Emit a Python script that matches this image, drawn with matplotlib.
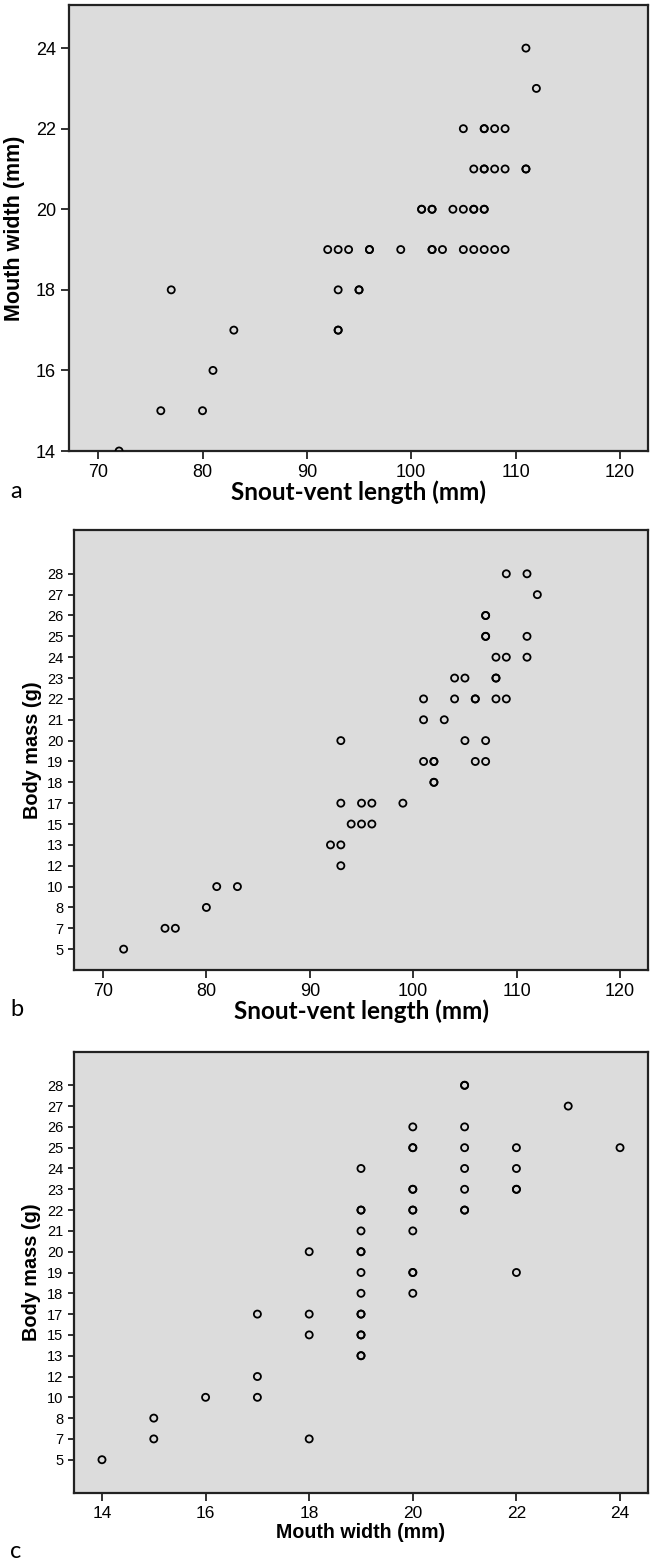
import matplotlib
matplotlib.use("Agg")
import matplotlib.pyplot as plt

# panel a: snout-vent length vs mouth width (repeated pairs = overlapping points)
svl_a = [72, 76, 80, 81, 83, 93, 93, 77, 93, 95, 95,
         92, 93, 94, 96, 96, 99, 102, 102, 103, 105, 106, 107, 108, 109,
         101, 101, 102, 102, 104, 105, 106, 106, 107, 107,
         106, 107, 107, 108, 109, 111, 111,
         105, 107, 107, 108, 109,
         112, 111]
mw_a = [14, 15, 15, 16, 17, 17, 17, 18, 18, 18, 18,
        19, 19, 19, 19, 19, 19, 19, 19, 19, 19, 19, 19, 19, 19,
        20, 20, 20, 20, 20, 20, 20, 20, 20, 20,
        21, 21, 21, 21, 21, 21, 21,
        22, 22, 22, 22, 22,
        23, 24]

# body mass categories shown on the y axis (ordinal axis)
mass_cats = [5, 7, 8, 10, 12, 13, 15, 17, 18, 19, 20, 21, 22, 23, 24, 25, 26, 27, 28]

# panel b: snout-vent length vs body mass
svl_b = [109, 111, 112, 107, 107, 107, 107, 111, 108, 109, 111,
         104, 105, 108, 108, 101, 104, 106, 106, 108, 109,
         101, 103, 93, 105, 107, 101, 102, 102, 106, 107,
         102, 102, 93, 95, 96, 99, 94, 95, 96, 92, 93, 93,
         81, 83, 80, 76, 77, 72]
bm_b = [28, 28, 27, 26, 26, 25, 25, 25, 24, 24, 24,
        23, 23, 23, 23, 22, 22, 22, 22, 22, 22,
        21, 21, 20, 20, 20, 19, 19, 19, 19, 19,
        18, 18, 17, 17, 17, 17, 15, 15, 15, 13, 13, 12,
        10, 10, 8, 7, 7, 5]

# panel c: mouth width vs body mass
mw_c = [21, 21, 23, 20, 21, 20, 20, 21, 22, 24, 19, 21, 22,
        20, 20, 21, 22, 22, 19, 19, 20, 20, 21, 21, 19, 20,
        18, 19, 19, 19, 20, 20, 22, 19, 20,
        17, 18, 19, 19, 18, 19, 19, 19, 19, 17, 16, 17, 15, 15, 18, 14]
bm_c = [28, 28, 27, 26, 26, 25, 25, 25, 25, 25, 24, 24, 24,
        23, 23, 23, 23, 23, 22, 22, 22, 22, 22, 22, 21, 21,
        20, 20, 20, 19, 19, 19, 19, 18, 18,
        17, 17, 17, 17, 15, 15, 15, 13, 13, 12, 10, 10, 8, 7, 7, 5]

bg = "#dcdcdc"
tick_font = ["Liberation Sans Narrow", "Liberation Sans", "DejaVu Sans"]


def style(ax):
    ax.set_facecolor(bg)
    for s in ax.spines.values():
        s.set_linewidth(1.6)
        s.set_color("#222222")
    ax.tick_params(direction="out", length=6, width=1.3, color="#222222")
    for lab in ax.get_xticklabels() + ax.get_yticklabels():
        lab.set_family(tick_font)


def pts(ax, x, y):
    ax.scatter(x, y, s=26, facecolors="none", edgecolors="black",
               linewidths=1.3, clip_on=True, zorder=3)


fig = plt.figure(figsize=(6.53, 15.64), dpi=100)

# ---- a
ax1 = fig.add_axes([69 / 653, 1 - 451 / 1564, 579 / 653, 446 / 1564])
pts(ax1, svl_a, mw_a)
ax1.set_xlim(67.2, 122.7)
ax1.set_ylim(14, 25.07)
ax1.set_xticks([70, 80, 90, 100, 110, 120])
ax1.set_yticks([14, 16, 18, 20, 22, 24])
ax1.tick_params(labelsize=13)
style(ax1)
ax1.set_ylabel("Mouth width (mm)", fontsize=15.5, fontweight="bold",
               family="Liberation Sans")
ax1.yaxis.set_label_coords(-0.076, 0.5)
ax1.set_xlabel("Snout-vent length (mm)", fontsize=17.5, fontweight="bold",
               family="Lato")
ax1.xaxis.set_label_coords(0.5, -0.067)

# ---- b
mpos = {v: i for i, v in enumerate(mass_cats)}
ax2 = fig.add_axes([74 / 653, 1 - 970 / 1564, 574 / 653, 440 / 1564])
pts(ax2, svl_b, [mpos[v] for v in bm_b])
ax2.set_xlim(67.2, 122.7)
ax2.set_ylim(-1.0, 20.1)
ax2.set_xticks([70, 80, 90, 100, 110, 120])
ax2.set_yticks(range(len(mass_cats)))
ax2.set_yticklabels([str(v) for v in mass_cats])
ax2.tick_params(axis="x", labelsize=13)
ax2.tick_params(axis="y", labelsize=10.5)
style(ax2)
ax2.tick_params(axis="y", length=4)
ax2.set_ylabel("Body mass (g)", fontsize=14.3, fontweight="bold",
               family="Liberation Sans")
ax2.yaxis.set_label_coords(-0.056, 0.5)
ax2.set_xlabel("Snout-vent length (mm)", fontsize=17.5, fontweight="bold",
               family="Lato")
ax2.xaxis.set_label_coords(0.5, -0.066)

# ---- c
ax3 = fig.add_axes([74 / 653, 1 - 1493 / 1564, 574 / 653, 441 / 1564])
pts(ax3, mw_c, [mpos[v] for v in bm_c])
ax3.set_xlim(13.46, 24.54)
ax3.set_ylim(-1.6, 19.6)
ax3.set_xticks([14, 16, 18, 20, 22, 24])
ax3.set_yticks(range(len(mass_cats)))
ax3.set_yticklabels([str(v) for v in mass_cats])
ax3.tick_params(axis="x", labelsize=12.5)
ax3.tick_params(axis="y", labelsize=10.5)
style(ax3)
ax3.tick_params(axis="y", length=4)
ax3.set_ylabel("Body mass (g)", fontsize=14.3, fontweight="bold",
               family="Liberation Sans")
ax3.yaxis.set_label_coords(-0.058, 0.5)
ax3.set_xlabel("Mouth width (mm)", fontsize=14.1, fontweight="bold",
               family="Liberation Sans")
ax3.xaxis.set_label_coords(0.5, -0.068)

# panel letters
for letter, ypix in [("a", 492), ("b", 1010), ("c", 1552)]:
    fig.text(10 / 653, 1 - ypix / 1564, letter, fontsize=17, family="Lato",
             va="center", ha="left")

fig.savefig("out.png", dpi=100, facecolor="white")
